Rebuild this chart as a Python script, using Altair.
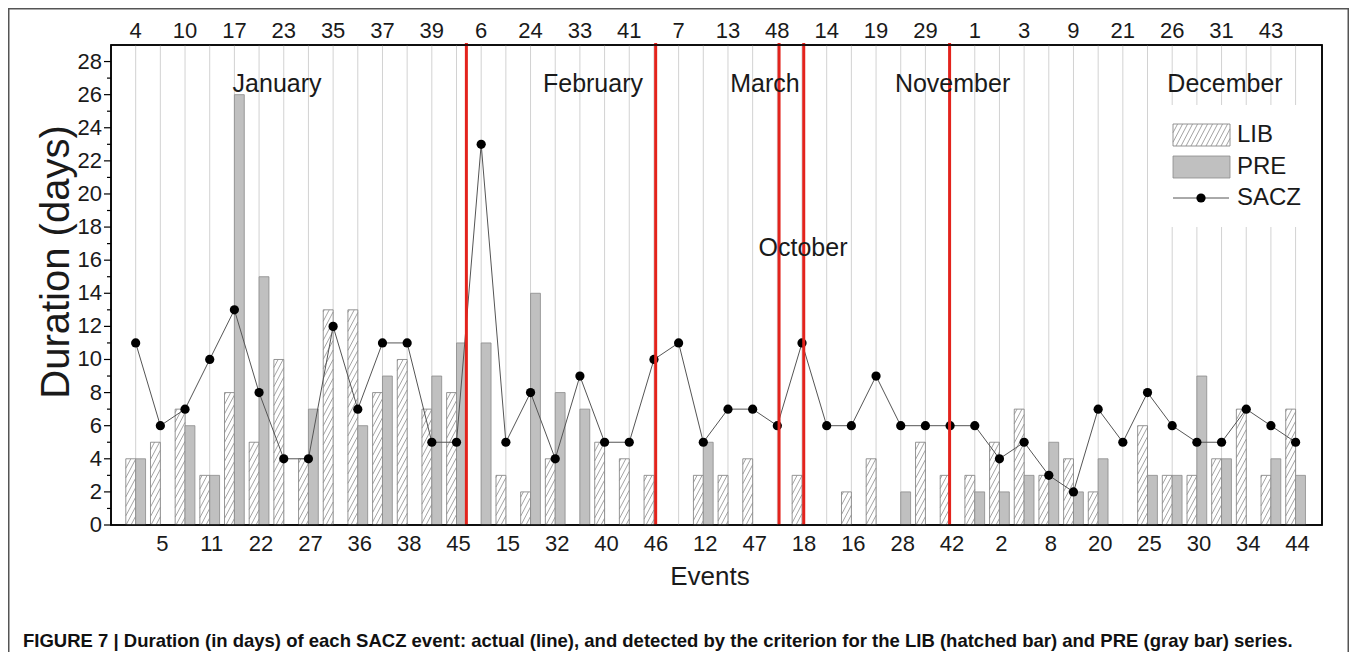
import altair as alt
import numpy as np
import pandas as pd

# ---------------- data ----------------
events = [4, 5, 10, 11, 17, 22, 23, 27, 35, 36, 37, 38, 39, 45,
          6, 15, 24, 32, 33, 40, 41, 46,
          7, 12, 13, 47,
          48, 18,
          14, 16, 19, 28, 29, 42,
          1, 2, 3, 8, 9, 20, 21, 25, 26, 30, 31, 34, 43, 44]
lib = [4, 5, 7, 3, 8, 5, 10, 4, 13, 13, 8, 10, 7, 8,
       0, 3, 2, 4, 0, 5, 4, 3,
       0, 3, 3, 4,
       0, 3,
       0, 2, 4, 0, 5, 3,
       3, 5, 7, 3, 4, 2, 0, 6, 3, 3, 4, 7, 3, 7]
pre = [4, 0, 6, 3, 26, 15, 0, 7, 0, 6, 9, 0, 9, 11,
       11, 0, 14, 8, 7, 0, 0, 0,
       0, 5, 0, 0,
       0, 0,
       0, 0, 0, 2, 0, 0,
       2, 2, 3, 5, 2, 4, 0, 3, 3, 9, 4, 0, 4, 3]
sacz = [11, 6, 7, 10, 13, 8, 4, 4, 12, 7, 11, 11, 5, 5,
        23, 5, 8, 4, 9, 5, 5, 10,
        11, 5, 7, 7,
        6, 11,
        6, 6, 9, 6, 6, 6,
        6, 4, 5, 3, 2, 7, 5, 8, 6, 5, 5, 7, 6, 5]

months = ["January", "February", "March", "October", "November", "December"]
month_x = [6.73, 19.53, 26.5, 28.04, 34.1, 45.14]
month_y = [26.65, 26.65, 26.65, 16.74, 26.65, 26.65]
separators = [14.4, 22.07, 27.07, 28.07, 33.98]

y_major = list(range(0, 29, 2))
y_minor = list(range(1, 29, 2))

legend_labels = ["LIB", "PRE", "SACZ"]
caption = ("FIGURE 7 | Duration (in days) of each SACZ event: actual (line), and detected by "
           "the criterion for the LIB (hatched bar) and PRE (gray bar) series.")

# ---------------- layout / style ----------------
PW, PH = 1211, 480
PAD = {"left": 103, "top": 37, "right": 27, "bottom": 127}
X_MAX, Y_MAX = 49.07, 29
BAR_W = 0.4
FONT = "Liberation Sans"
TXT = "#1a1a1a"
GRAY = "#c0c0c0"
GRAY_EDGE = "#8a8a8a"
HATCH = "#8c8c8c"

n = len(events)
df = pd.DataFrame({
    "idx": list(range(n)),
    "p": list(range(1, n + 1)),
    "event": [str(e) for e in events],
    "lib": lib, "pre": pre, "sacz": sacz,
})
df["lib_x0"] = df["p"] - BAR_W
df["pre_x1"] = df["p"] + BAR_W

sx = PW / X_MAX
sy = PH / Y_MAX


def hatch(x0, x1, h, k=1.9, d=5.0):
    segs = []
    c = np.floor((x0 - h / k) / d) * d
    while c < x1:
        ya = max(0.0, k * (x0 - c))
        yb = min(h, k * (x1 - c))
        if yb - ya > 0.3:
            segs.append((c + ya / k, ya, c + yb / k, yb))
        c += d
    return segs


rows = []
for p, v in zip(df["p"], df["lib"]):
    if v > 0:
        for a, b, c_, d_ in hatch((p - BAR_W) * sx, p * sx, v * sy):
            rows.append({"x": a / sx, "y": b / sy, "x2": c_ / sx, "y2": d_ / sy})
hatch_df = pd.DataFrame(rows)

xs = alt.Scale(domain=[0, X_MAX], nice=False, zero=False)
ys = alt.Scale(domain=[0, Y_MAX], nice=False, zero=False)

base = alt.Chart(df)
one = pd.DataFrame({"a": [0]})


def X(field):
    return alt.X(field, scale=xs, axis=None)


def Y(field):
    return alt.Y(field, scale=ys, axis=None)


frame = alt.Chart(one).mark_rect(fill="transparent", fillOpacity=0, stroke="#555555",
                                 strokeWidth=1.5).encode(
    x=alt.value(-102.25), x2=alt.value(1237.25), y=alt.value(-36.25), y2=alt.value(700))

grid = base.mark_rule(color="#d2d2d2", strokeWidth=1).encode(
    x=X("p:Q"), y=alt.value(0), y2=alt.value(PH))

leg_bg = alt.Chart(one).mark_rect(fill="white").encode(
    x=alt.value(1049), x2=alt.value(1194), y=alt.value(60), y2=alt.value(182))

lib_bars = base.transform_filter("datum.lib > 0").mark_bar(
    fill="white", stroke="#7a7a7a", strokeWidth=0.8).encode(
    x=X("lib_x0:Q"), x2="p:Q", y=Y("lib:Q"), y2=alt.datum(0))

hatch_layer = alt.Chart(hatch_df).mark_rule(color=HATCH, strokeWidth=0.8).encode(
    x=X("x:Q"), x2="x2:Q", y=Y("y:Q"), y2="y2:Q")

pre_bars = base.transform_filter("datum.pre > 0").mark_bar(
    fill=GRAY, stroke=GRAY_EDGE, strokeWidth=0.8).encode(
    x=X("p:Q"), x2="pre_x1:Q", y=Y("pre:Q"), y2=alt.datum(0))

line = base.mark_line(color="#555555", strokeWidth=1).encode(x=X("p:Q"), y=Y("sacz:Q"))
pts = base.mark_circle(size=85, color="black", opacity=1).encode(x=X("p:Q"), y=Y("sacz:Q"))

sep = alt.Chart(pd.DataFrame({"s": separators})).mark_rule(color="#e3231c", strokeWidth=3).encode(
    x=X("s:Q"), y=alt.value(-2), y2=alt.value(PH))

# y axis: ticks and labels
ymaj = alt.Chart(pd.DataFrame({"v": y_major}))
major_ticks = ymaj.mark_rule(color="black", strokeWidth=1.2).encode(
    y=Y("v:Q"), x=alt.value(-7), x2=alt.value(0))
y_labels = ymaj.mark_text(fontSize=22, font=FONT, color=TXT, align="right",
                          baseline="middle").encode(
    y=Y("v:Q"), x=alt.value(-9), text="v:Q")
minor_ticks = alt.Chart(pd.DataFrame({"v": y_minor})).mark_rule(
    color="black", strokeWidth=1.2).encode(
    y=Y("v:Q"), x=alt.value(-4), x2=alt.value(0))

# plot border
border = alt.Chart(one).mark_rect(fill="transparent", fillOpacity=0, stroke="black",
                                  strokeWidth=1.5).encode(
    x=alt.value(0), x2=alt.value(PW), y=alt.value(0), y2=alt.value(PH))

top_labels = base.transform_filter("datum.idx % 2 == 0").mark_text(
    fontSize=22, font=FONT, color=TXT, baseline="middle").encode(
    x=X("p:Q"), y=alt.value(-14), text="event:N")
bottom_labels = base.transform_filter("datum.idx % 2 == 1").mark_text(
    fontSize=22, font=FONT, color=TXT, baseline="middle", dx=2).encode(
    x=X("p:Q"), y=alt.value(PH + 19), text="event:N")

mdf = pd.DataFrame({"m": months, "mx": month_x, "my": month_y})
month_text = alt.Chart(mdf).mark_text(fontSize=25, font=FONT, color=TXT, baseline="middle").encode(
    x=X("mx:Q"), y=Y("my:Q"), text="m:N")

# legend (drawn by hand)
leg_lib = alt.Chart(one).mark_rect(fill="white", stroke="#7a7a7a", strokeWidth=0.8).encode(
    x=alt.value(1062), x2=alt.value(1119), y=alt.value(79), y2=alt.value(101))
lrows = [{"x": a, "y": 101 - b, "x2": c_, "y2": 101 - d_} for a, b, c_, d_ in hatch(1062, 1119, 22)]
leg_hatch = alt.Chart(pd.DataFrame(lrows)).mark_rule(color=HATCH, strokeWidth=0.8).encode(
    x=alt.X("x:Q", scale=None, axis=None), x2="x2:Q",
    y=alt.Y("y:Q", scale=None, axis=None), y2="y2:Q")
leg_pre = alt.Chart(one).mark_rect(fill=GRAY, stroke=GRAY_EDGE, strokeWidth=0.8).encode(
    x=alt.value(1062), x2=alt.value(1119), y=alt.value(111), y2=alt.value(133))
leg_line = alt.Chart(one).mark_rule(color="#555555", strokeWidth=1).encode(
    x=alt.value(1062), x2=alt.value(1118), y=alt.value(153))
leg_dot = alt.Chart(one).mark_circle(size=85, color="black", opacity=1).encode(
    x=alt.value(1090), y=alt.value(153))
ltxt = pd.DataFrame({"t": legend_labels, "ly": [90, 122, 153]})
leg_text = alt.Chart(ltxt).mark_text(fontSize=24, font=FONT, color=TXT, align="left",
                                     baseline="middle").encode(
    x=alt.value(1126), y=alt.Y("ly:Q", scale=None, axis=None), text="t:N")

ytitle = alt.Chart(one).mark_text(text="Duration (days)", angle=270, fontSize=40, font=FONT,
                                  color=TXT, baseline="middle").encode(
    x=alt.value(-54), y=alt.value(217))
xtitle = alt.Chart(one).mark_text(text="Events", fontSize=26, font=FONT, color=TXT,
                                  baseline="middle").encode(
    x=alt.value(599), y=alt.value(532))
cap = alt.Chart(one).mark_text(text=caption, fontSize=18.5, font=FONT, fontWeight="bold",
                               color="#111111", align="left", baseline="alphabetic").encode(
    x=alt.value(-88), y=alt.value(602))

chart = alt.layer(
    frame, grid, leg_bg, lib_bars, hatch_layer, pre_bars, line, pts, sep,
    major_ticks, minor_ticks, y_labels, border,
    top_labels, bottom_labels, month_text,
    leg_lib, leg_hatch, leg_pre, leg_line, leg_dot, leg_text,
    ytitle, xtitle, cap,
).properties(
    width=PW, height=PH, padding=PAD, background="white",
    autosize=alt.AutoSizeParams(type="none", contains="content"),
).configure_view(stroke="black", strokeWidth=1.5)

chart.save("out.html", embed_options={"renderer": "svg", "actions": False})
